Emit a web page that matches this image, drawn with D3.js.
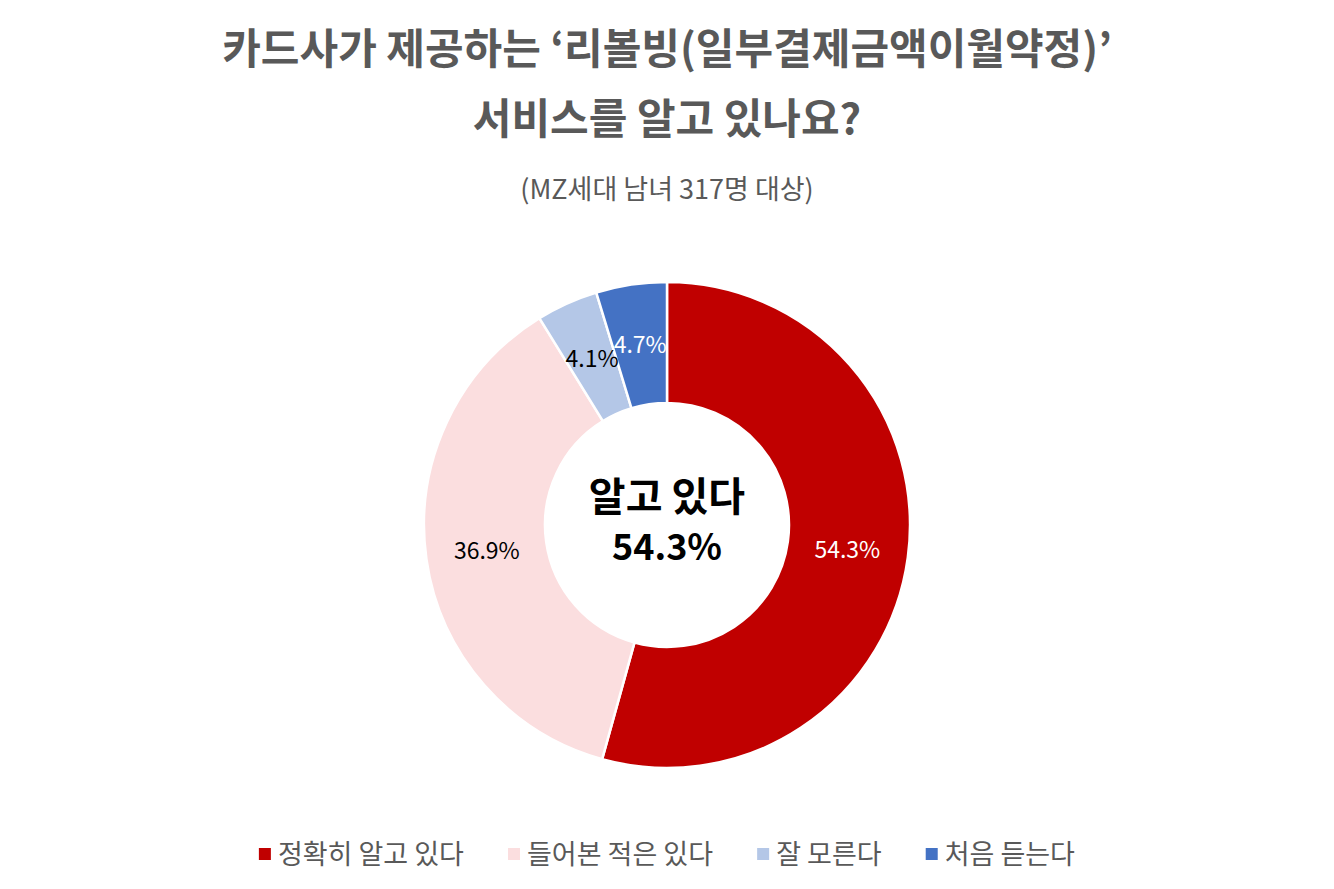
<html>
<head>
<meta charset="utf-8">
<script src="https://d3js.org/d3.v7.min.js"></script>
<style>
  body { margin: 0; background: #fff; }
  text { font-family: "Noto Sans CJK KR", "Noto Sans", sans-serif; }
</style>
</head>
<body>
<svg class="chart" width="1334" height="889"></svg>
<script>
  var categories = ["정확히 알고 있다", "들어본 적은 있다", "잘 모른다", "처음 듣는다"];
  var values = [54.3, 36.9, 4.1, 4.7];
  var colors = ["#C00000", "#FBDEDF", "#B4C7E7", "#4472C4"];
  var labelColors = ["#ffffff", "#000000", "#000000", "#ffffff"];
  var titleLines = ["카드사가 제공하는 ‘리볼빙(일부결제금액이월약정)’", "서비스를 알고 있나요?"];
  var subtitle = "(MZ세대 남녀 317명 대상)";
  var centerLines = ["알고 있다", "54.3%"];

  var svg = d3.select("svg");
  var cx = 667, cy = 525, outerR = 243, innerR = 122;

  svg.selectAll("text.title")
    .data(titleLines)
    .enter().append("text")
    .attr("class", "title")
    .attr("x", cx)
    .attr("y", (d, i) => 64 + i * 70)
    .attr("text-anchor", "middle")
    .style("font-size", "42px")
    .style("font-weight", "bold")
    .style("fill", "#595959")
    .text(d => d);

  svg.append("text")
    .attr("x", cx)
    .attr("y", 199)
    .attr("text-anchor", "middle")
    .style("font-size", "27px")
    .style("fill", "#595959")
    .text(subtitle);

  var pie = d3.pie().sort(null).value(d => d);
  var arc = d3.arc().innerRadius(innerR).outerRadius(outerR);
  var labelArc = d3.arc().innerRadius(182).outerRadius(182);

  var g = svg.append("g").attr("transform", `translate(${cx},${cy})`);
  var arcs = pie(values);

  g.selectAll("path")
    .data(arcs)
    .enter().append("path")
    .attr("d", arc)
    .style("fill", (d, i) => colors[i])
    .style("stroke", "#fff")
    .style("stroke-width", 2.5);

  g.selectAll("text.lbl")
    .data(arcs)
    .enter().append("text")
    .attr("class", "lbl")
    .attr("transform", d => `translate(${labelArc.centroid(d)})`)
    .attr("text-anchor", "middle")
    .attr("dy", "0.35em")
    .style("font-size", "23px")
    .style("fill", (d, i) => labelColors[i])
    .text(d => d.data.toFixed(1) + "%");

  g.selectAll("text.center")
    .data(centerLines)
    .enter().append("text")
    .attr("class", "center")
    .attr("x", 0)
    .attr("y", (d, i) => -14 + i * 49)
    .attr("text-anchor", "middle")
    .style("font-size", (d, i) => i === 0 ? "40px" : "36px")
    .style("font-weight", "bold")
    .style("fill", "#000")
    .text(d => d);

  // legend
  var legend = svg.append("g");
  var items = legend.selectAll("g")
    .data(categories)
    .enter().append("g");
  items.append("rect")
    .attr("width", 12).attr("height", 12)
    .attr("y", -12)
    .style("fill", (d, i) => colors[i]);
  items.append("text")
    .attr("x", 19)
    .attr("y", 0)
    .attr("dy", "0.15em")
    .style("font-size", "27px")
    .style("fill", "#595959")
    .text(d => d);

  var gap = 44;
  var x = 0;
  items.each(function () {
    var w = this.getBBox().width;
    d3.select(this).attr("transform", `translate(${x},0)`);
    x += w + gap;
  });
  var total = x - gap;
  legend.attr("transform", `translate(${cx - total / 2},${860})`);
</script>
</body>
</html>
